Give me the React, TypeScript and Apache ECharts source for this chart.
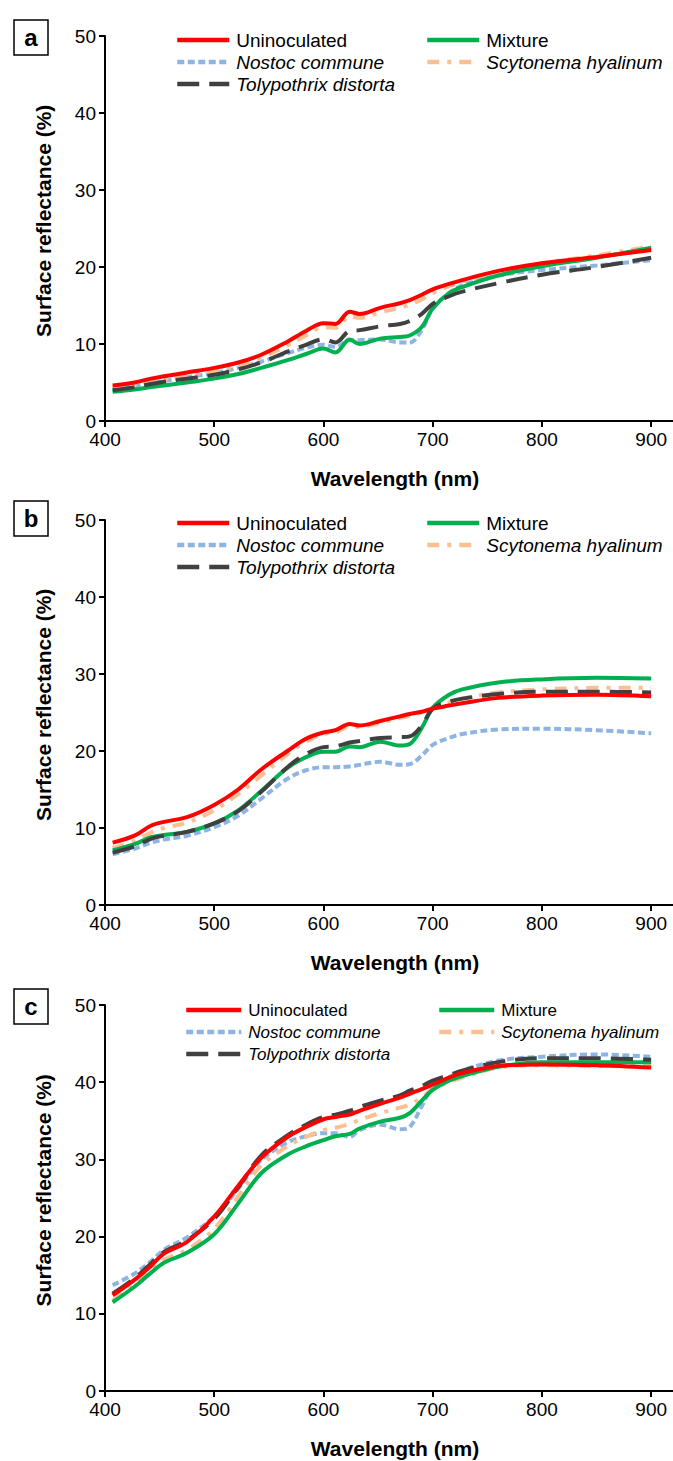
import React, { useEffect, useRef } from "react";
import * as echarts from "echarts";

const wavelengths = [407, 427, 442, 454, 475, 500, 522, 543, 567, 584, 600, 611, 624, 633, 652, 670, 679, 690, 700, 715, 727, 760, 800, 850, 900];
const xTicks = [400, 500, 600, 700, 800, 900];

// Panel a
const aUninoculated = [4.6, 5.0, 5.5, 5.8, 6.3, 6.9, 7.6, 8.6, 10.3, 11.7, 12.7, 12.6, 14.2, 13.9, 14.7, 15.3, 15.7, 16.4, 17.1, 17.8, 18.3, 19.5, 20.5, 21.3, 22.2];
const aMixture = [3.8, 4.1, 4.4, 4.6, 5.0, 5.5, 6.1, 6.9, 7.9, 8.7, 9.4, 8.9, 10.6, 10.0, 10.7, 10.9, 11.1, 12.2, 14.6, 16.6, 17.4, 18.9, 20.1, 21.2, 22.5];
const aNostoc = [4.2, 4.5, 4.9, 5.2, 5.7, 6.2, 6.9, 7.7, 8.8, 9.5, 9.9, 9.6, 10.5, 10.5, 10.6, 10.2, 10.2, 11.8, 14.6, 16.6, 17.6, 18.9, 19.6, 20.2, 20.9];
const aScytonema = [4.3, 4.7, 5.1, 5.4, 5.9, 6.5, 7.2, 8.2, 9.8, 11.1, 12.2, 12.1, 13.6, 13.4, 14.1, 14.7, 15.1, 15.8, 16.6, 17.5, 18.1, 19.4, 20.5, 21.5, 22.7];
const aTolypothrix = [4.0, 4.4, 4.8, 5.1, 5.5, 6.0, 6.7, 7.6, 9.0, 9.9, 10.6, 10.2, 11.7, 11.8, 12.3, 12.6, 13.0, 13.9, 15.2, 16.2, 16.8, 17.9, 19.0, 20.0, 21.2];

// Panel b
const bUninoculated = [8.1, 9.0, 10.3, 10.8, 11.4, 13.0, 15.0, 17.6, 20.0, 21.6, 22.4, 22.7, 23.5, 23.3, 23.9, 24.5, 24.8, 25.1, 25.5, 25.9, 26.2, 26.9, 27.2, 27.3, 27.1];
const bMixture = [7.1, 7.9, 8.8, 9.1, 9.5, 10.6, 12.3, 14.8, 17.8, 19.2, 19.9, 19.9, 20.6, 20.5, 21.2, 20.7, 20.9, 23.0, 25.6, 27.3, 28.0, 28.9, 29.3, 29.5, 29.4];
const bNostoc = [6.6, 7.3, 8.1, 8.5, 9.0, 10.1, 11.6, 13.8, 16.4, 17.5, 17.9, 17.9, 18.0, 18.2, 18.6, 18.2, 18.3, 19.4, 20.8, 21.7, 22.2, 22.8, 22.9, 22.7, 22.3];
const bScytonema = [7.4, 8.3, 9.4, 10.0, 10.7, 12.3, 14.4, 16.8, 19.6, 21.2, 22.2, 22.4, 23.2, 23.1, 23.7, 24.3, 24.6, 25.0, 25.6, 26.3, 26.8, 27.6, 28.0, 28.2, 28.2];
const bTolypothrix = [6.8, 7.6, 8.6, 9.0, 9.5, 10.6, 12.2, 14.7, 17.9, 19.6, 20.5, 20.6, 21.1, 21.3, 21.7, 21.8, 21.9, 23.3, 25.5, 26.4, 26.8, 27.4, 27.7, 27.7, 27.6];

// Panel c
const cUninoculated = [12.4, 14.4, 16.2, 17.8, 19.3, 22.6, 26.6, 30.2, 32.9, 34.2, 35.2, 35.5, 35.8, 36.3, 37.2, 38.0, 38.5, 39.1, 39.7, 40.6, 41.2, 42.1, 42.3, 42.2, 41.9];
const cMixture = [11.5, 13.5, 15.3, 16.6, 17.9, 20.3, 24.3, 28.2, 30.6, 31.7, 32.5, 33.0, 33.3, 34.0, 34.9, 35.4, 36.0, 37.6, 39.0, 40.2, 40.8, 42.0, 42.6, 42.6, 42.6];
const cNostoc = [13.7, 15.2, 16.8, 18.3, 19.9, 22.6, 26.2, 29.9, 32.2, 33.0, 33.4, 33.4, 32.9, 33.8, 34.5, 33.9, 34.2, 36.9, 39.3, 40.6, 41.5, 42.8, 43.3, 43.6, 43.3];
const cScytonema = [11.7, 13.7, 15.6, 17.0, 18.3, 21.0, 25.2, 29.2, 31.7, 32.9, 33.8, 34.1, 34.6, 35.1, 36.0, 36.7, 37.1, 38.0, 39.1, 40.0, 40.6, 41.9, 42.2, 42.1, 42.1];
const cTolypothrix = [12.6, 14.6, 16.5, 18.0, 19.5, 22.3, 26.4, 30.5, 33.1, 34.5, 35.5, 35.8, 36.3, 36.8, 37.6, 38.3, 38.9, 39.5, 40.2, 40.9, 41.5, 42.6, 43.1, 43.1, 42.9];

const panelLabels = ["a", "b", "c"];
const yTitle = "Surface reflectance (%)";
const xTitle = "Wavelength (nm)";

const FONT = "'Liberation Sans', Arial, sans-serif";

export default function App() {
  const ref = useRef<HTMLDivElement>(null);
  useEffect(() => {
    document.body.style.margin = "0";
    const chart = echarts.init(ref.current!, null, { renderer: "svg" });

    const panels = [
      { Uninoculated: aUninoculated, Mixture: aMixture, "Nostoc commune": aNostoc, "Scytonema hyalinum": aScytonema, "Tolypothrix distorta": aTolypothrix },
      { Uninoculated: bUninoculated, Mixture: bMixture, "Nostoc commune": bNostoc, "Scytonema hyalinum": bScytonema, "Tolypothrix distorta": bTolypothrix },
      { Uninoculated: cUninoculated, Mixture: cMixture, "Nostoc commune": cNostoc, "Scytonema hyalinum": cScytonema, "Tolypothrix distorta": cTolypothrix },
    ];

    const grids = [
      { left: 105, top: 36, width: 568, height: 385 },
      { left: 105, top: 520, width: 568, height: 385 },
      { left: 105, top: 1005, width: 568, height: 386 },
    ];

    const styles: Record<string, any> = {
      "Nostoc commune": { color: "#8DB4E2", type: [7, 3.5], z: 1 },
      "Scytonema hyalinum": { color: "#FAC090", type: [12, 8, 4, 8], z: 2 },
      Mixture: { color: "#00B050", type: "solid", z: 3 },
      "Tolypothrix distorta": { color: "#404040", type: [22, 10], z: 4 },
      Uninoculated: { color: "#FF0000", type: "solid", z: 5 },
    };
    const drawOrder = ["Nostoc commune", "Scytonema hyalinum", "Mixture", "Tolypothrix distorta", "Uninoculated"];

    const series: any[] = [];
    panels.forEach((p: any, i) => {
      drawOrder.forEach((name) => {
        const st = styles[name];
        series.push({
          type: "line",
          name,
          xAxisIndex: i,
          yAxisIndex: i,
          data: wavelengths.map((w, j) => [w, p[name][j]]),
          showSymbol: false,
          symbol: "none",
          smooth: 0.35,
          z: st.z,
          itemStyle: { color: st.color },
          lineStyle: { color: st.color, width: 4, type: st.type, cap: "butt" },
        });
      });
    });

    const legendLayouts = [
      { l: 175, r: 425, top: 30, w: 52, fs: 19 },
      { l: 175, r: 425, top: 513, w: 52, fs: 19 },
      { l: 184, r: 437, top: 1000, w: 55, fs: 17 },
    ];
    const legends: any[] = [];
    legendLayouts.forEach((L) => {
      const common = {
        orient: "vertical",
        top: L.top,
        itemWidth: L.w,
        itemHeight: 14,
        itemGap: 2,
        padding: 0,
        selectedMode: false,
        itemStyle: { color: "rgba(0,0,0,0)", borderWidth: 0, opacity: 0 },
        lineStyle: { width: 4.5 },
        textStyle: { fontSize: L.fs, color: "#000", fontFamily: FONT, lineHeight: 20, padding: [0, 0, 0, 2] },
      };
      legends.push({
        ...common,
        left: L.l,
        data: [
          { name: "Uninoculated" },
          { name: "Nostoc commune", textStyle: { fontStyle: "italic" } },
          { name: "Tolypothrix distorta", textStyle: { fontStyle: "italic" } },
        ],
      });
      legends.push({
        ...common,
        left: L.r,
        data: [
          { name: "Mixture" },
          { name: "Scytonema hyalinum", textStyle: { fontStyle: "italic" } },
        ],
      });
    });

    const graphic: any[] = [];
    const boxTops = [20, 501, 989];
    boxTops.forEach((t, i) => {
      graphic.push({
        type: "rect",
        shape: { x: 14, y: t, width: 34, height: 35 },
        style: { fill: "#fff", stroke: "#000", lineWidth: 1.5 },
      });
      graphic.push({
        type: "text",
        x: 31,
        y: t + 17.5,
        style: { text: panelLabels[i], font: `bold 24px ${FONT}`, fill: "#000", align: "center", verticalAlign: "middle" },
      });
    });
    grids.forEach((g) => {
      graphic.push({
        type: "text",
        x: 43,
        y: g.top + g.height - g.height * 0.52,
        rotation: Math.PI / 2,
        style: { text: yTitle, font: `bold 21px ${FONT}`, fill: "#000", align: "center", verticalAlign: "middle" },
      });
    });

    chart.setOption({
      animation: false,
      backgroundColor: "#fff",
      grid: grids,
      xAxis: grids.map((_, i) => ({
        type: "value",
        gridIndex: i,
        min: 400,
        max: 920,
        interval: 100,
        name: xTitle,
        nameLocation: "middle",
        nameGap: 47,
        nameTextStyle: { fontSize: 21, fontWeight: "bold", color: "#000", fontFamily: FONT, padding: [0, 0, 0, 12] },
        axisLine: { show: true, onZero: false, lineStyle: { color: "#000", width: 2 } },
        axisTick: { show: true, length: 6, lineStyle: { color: "#000", width: 2 }, customValues: xTicks },
        axisLabel: { fontSize: 19, color: "#000", fontFamily: FONT, margin: 9, customValues: xTicks },
        splitLine: { show: false },
      })),
      yAxis: grids.map((_, i) => ({
        type: "value",
        gridIndex: i,
        min: 0,
        max: 50,
        interval: 10,
        axisLine: { show: true, lineStyle: { color: "#000", width: 2 } },
        axisTick: { show: true, length: 6, lineStyle: { color: "#000", width: 2 } },
        axisLabel: { fontSize: 19, color: "#000", fontFamily: FONT, margin: 9 },
        splitLine: { show: false },
      })),
      legend: legends,
      graphic,
      series,
    });
    return () => chart.dispose();
  }, []);
  return <div ref={ref} style={{ position: "absolute", left: 0, top: 0, width: 673, height: 1461 }} />;
}
